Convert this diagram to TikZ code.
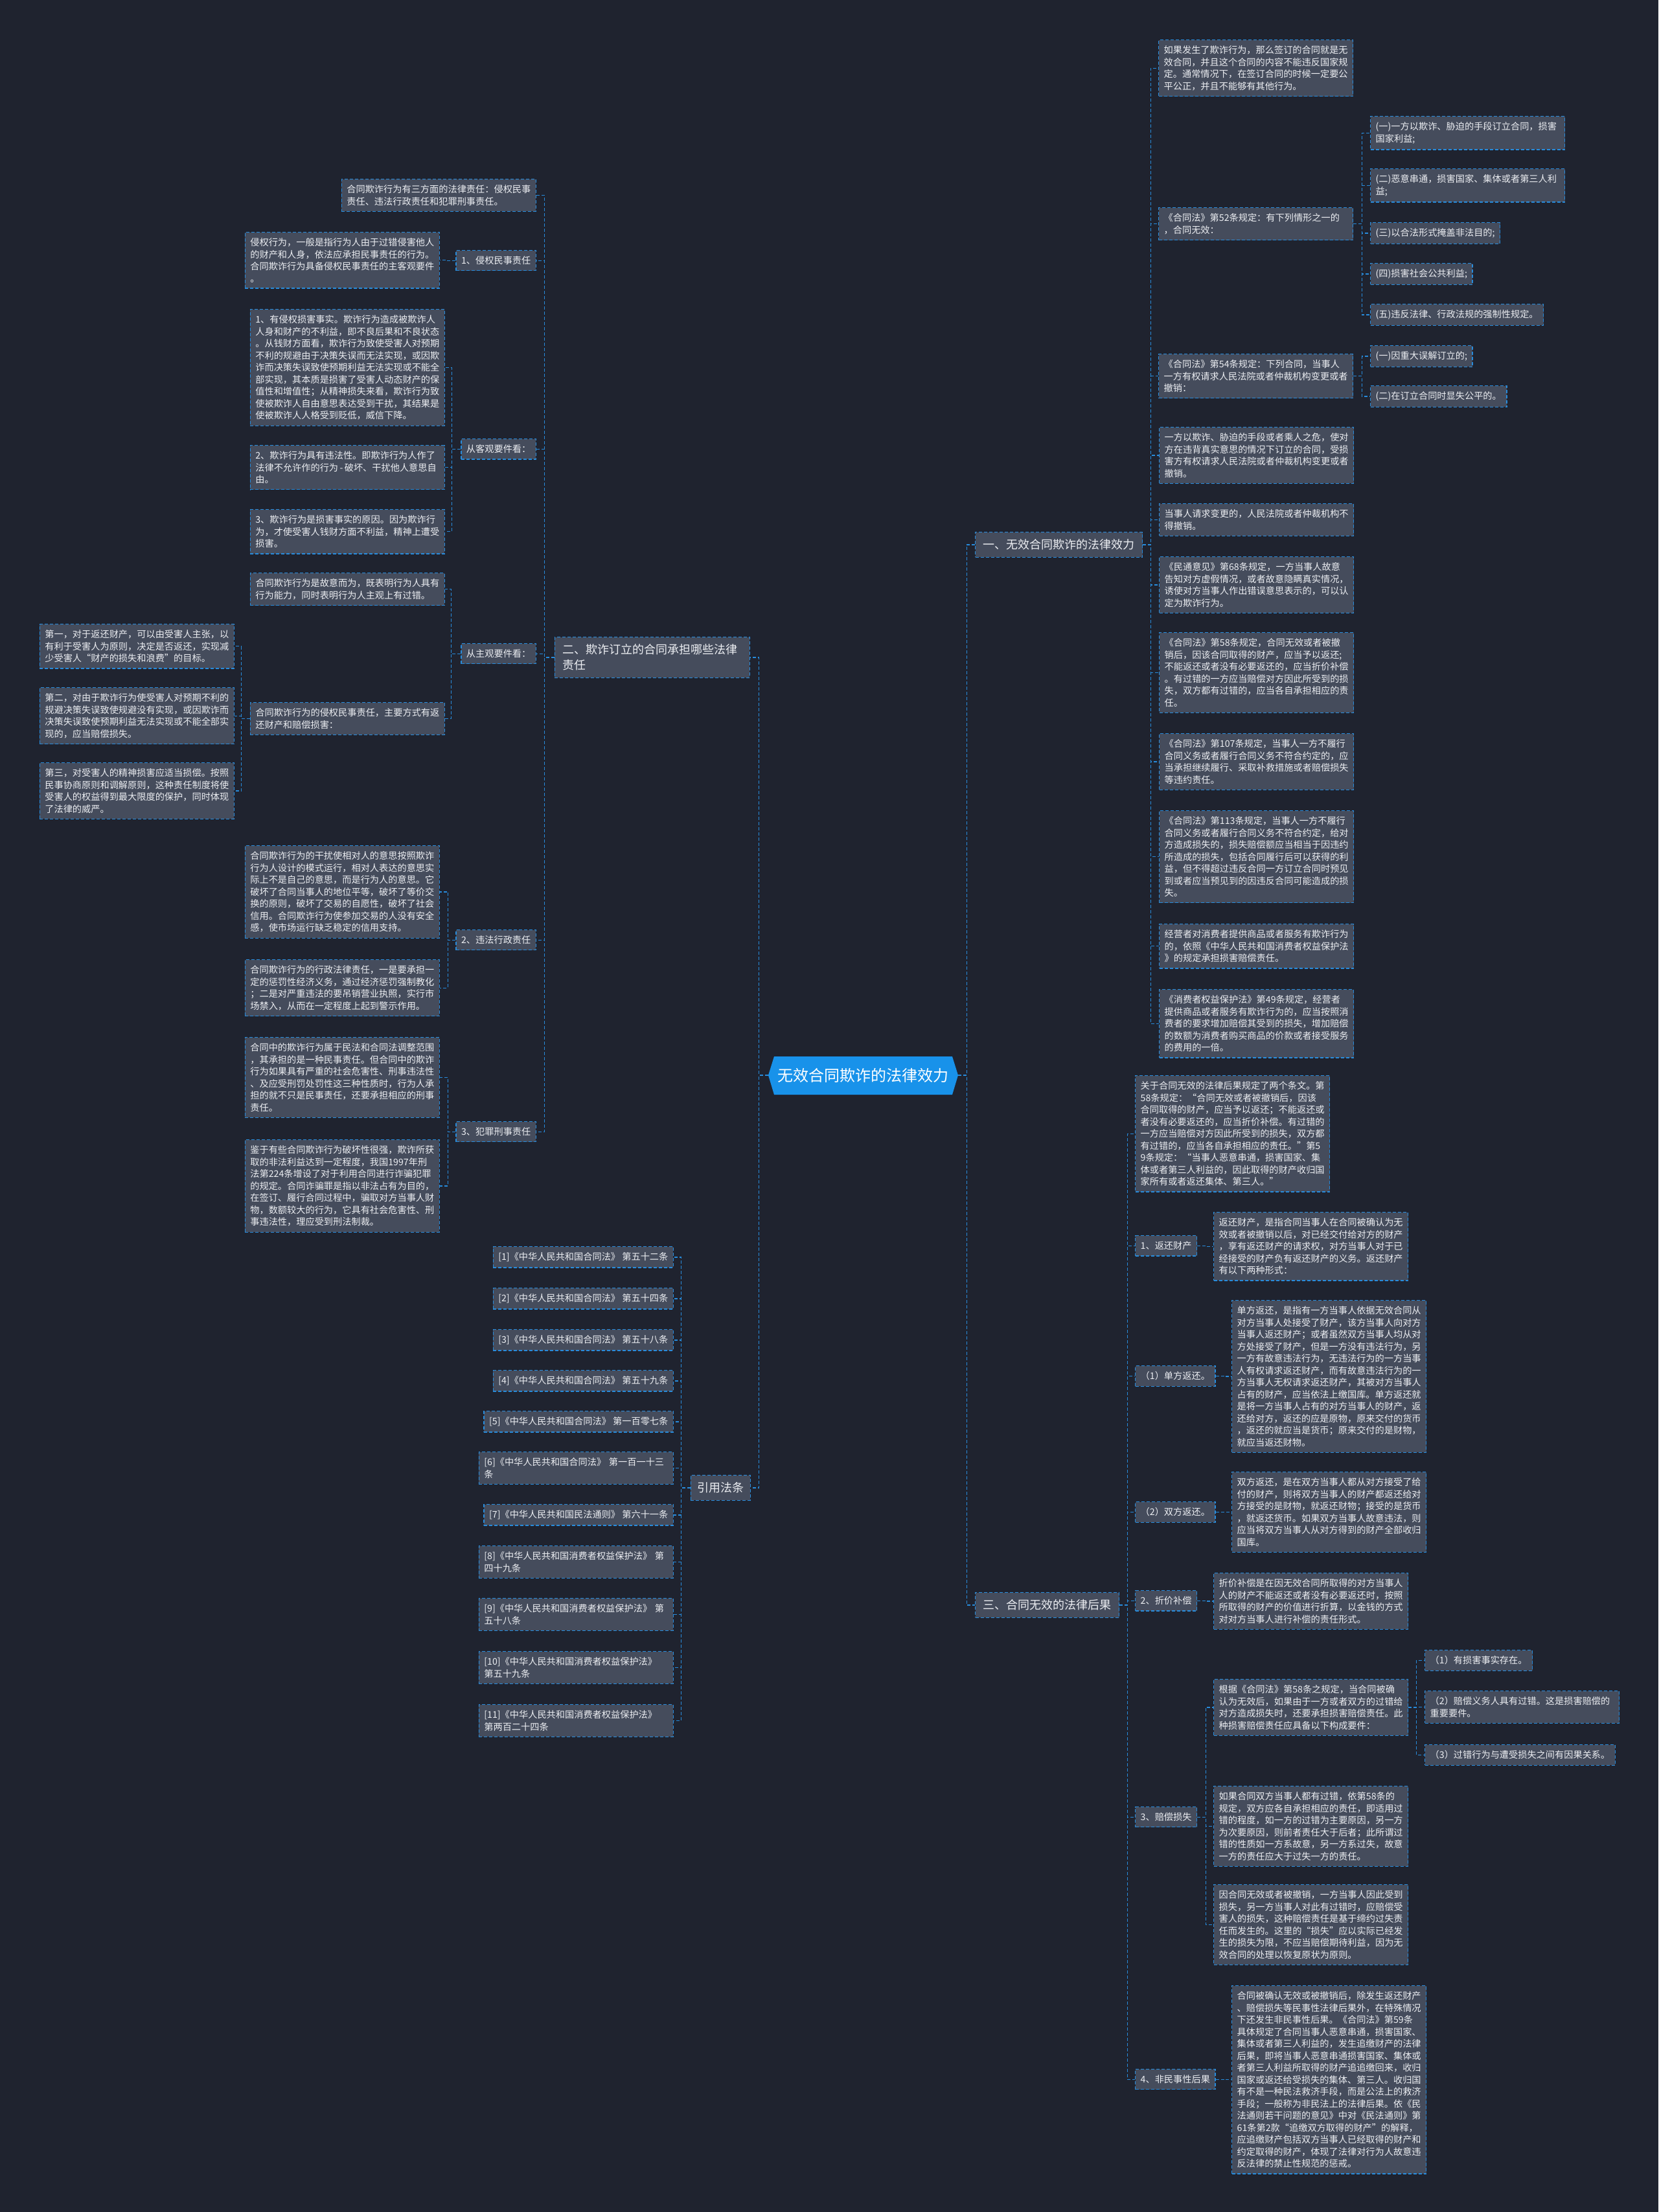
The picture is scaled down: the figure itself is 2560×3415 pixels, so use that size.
\documentclass[tikz,border=0pt]{standalone}
\usepackage{fontspec}
\newfontfamily\cjk{Noto Sans CJK SC}
\definecolor{bgcol}{RGB}{31,35,47}
\definecolor{boxcol}{RGB}{69,76,92}
\definecolor{linecol}{RGB}{40,140,220}
\definecolor{txtcol}{RGB}{236,238,242}
\definecolor{rootcol}{RGB}{24,146,234}
\newcommand\linkR[3]{\draw[conn] (#1.east) -- ++(#3,0) |- (#2.west);}
\newcommand\linkL[3]{\draw[conn] (#1.west) -- ++(-#3,0) |- (#2.east);}
\begin{document}
\begin{tikzpicture}[x=1pt,y=-1pt,
  conn/.style={draw=linecol, line width=1.3pt, dash pattern=on 5pt off 3pt},
  box/.style={draw=linecol, line width=1.3pt, dash pattern=on 5pt off 3pt, fill=boxcol, text=txtcol, font=\cjk\fontsize{14.2}{18.5}\selectfont, inner xsep=8pt, inner ysep=9pt, align=left},
  tw/.style={box, text width=#1},
  br/.style={box, font=\cjk\fontsize{18}{24}\selectfont, inner xsep=12pt, inner ysep=11pt},
  NW/.style={anchor=north west}, NE/.style={anchor=north east}]
\fill[bgcol] (0,0) rectangle (2560,3415);
\useasboundingbox (0,0) rectangle (2560,3415);

% root
\fill[rootcol] (1186,1660) -- (1195,1631) -- (1470,1631) -- (1479,1660) -- (1470,1690) -- (1195,1690) -- cycle;
\node[text=white, font=\cjk\fontsize{24}{28}\selectfont, inner sep=0pt, minimum width=293pt, minimum height=59pt] (root) at (1332.5,1660) {无效合同欺诈的法律效力};

% branches
\node[br, NW] (b1) at (1505,821) {一、无效合同欺诈的法律效力};
\node[br, NW] (b3) at (1505,2458) {三、合同无效的法律后果};
\node[br, NE, text width=277pt] (b2) at (1158,983) {二、欺诈订立的合同承担哪些法律\\责任};
\node[br, NE, inner xsep=10pt] (refs) at (1159,2277) {引用法条};

% ===== branch 1 =====
\node[tw=284pt, NW] (r1) at (1788,61) {如果发生了欺诈行为，那么签订的合同就是无\\效合同，并且这个合同的内容不能违反国家规\\定。通常情况下，在签订合同的时候一定要公\\平公正，并且不能够有其他行为。};
\node[tw=284pt, NW] (r52) at (1788,320) {《合同法》第52条规定：有下列情形之一的\\，合同无效：};
\node[tw=284pt, NW] (c1) at (2115,179) {(一)一方以欺诈、胁迫的手段订立合同，损害\\国家利益;};
\node[tw=284pt, NW] (c2) at (2115,260) {(二)恶意串通，损害国家、集体或者第三人利\\益;};
\node[box, NW] (c3) at (2115,343) {(三)以合法形式掩盖非法目的;};
\node[box, NW] (c4) at (2115,406) {(四)损害社会公共利益;};
\node[box, NW] (c5) at (2115,469) {(五)违反法律、行政法规的强制性规定。};
\node[tw=284pt, NW] (r54) at (1788,546) {《合同法》第54条规定：下列合同，当事人\\一方有权请求人民法院或者仲裁机构变更或者\\撤销：};
\node[box, NW] (d1) at (2115,533) {(一)因重大误解订立的;};
\node[box, NW] (d2) at (2115,595) {(二)在订立合同时显失公平的。};
\node[tw=284pt, NW] (r3) at (1789,659) {一方以欺诈、胁迫的手段或者乘人之危，使对\\方在违背真实意思的情况下订立的合同，受损\\害方有权请求人民法院或者仲裁机构变更或者\\撤销。};
\node[tw=284pt, NW] (r4) at (1789,777) {当事人请求变更的，人民法院或者仲裁机构不\\得撤销。};
\node[tw=284pt, NW] (r5) at (1789,859) {《民通意见》第68条规定，一方当事人故意\\告知对方虚假情况，或者故意隐瞒真实情况，\\诱使对方当事人作出错误意思表示的，可以认\\定为欺诈行为。};
\node[tw=284pt, NW] (r6) at (1789,976) {《合同法》第58条规定，合同无效或者被撤\\销后，因该合同取得的财产，应当予以返还;\\不能返还或者没有必要返还的，应当折价补偿\\。有过错的一方应当赔偿对方因此所受到的损\\失，双方都有过错的，应当各自承担相应的责\\任。};
\node[tw=284pt, NW] (r7) at (1789,1132) {《合同法》第107条规定，当事人一方不履行\\合同义务或者履行合同义务不符合约定的，应\\当承担继续履行、采取补救措施或者赔偿损失\\等违约责任。};
\node[tw=284pt, NW] (r8) at (1789,1251) {《合同法》第113条规定，当事人一方不履行\\合同义务或者履行合同义务不符合约定，给对\\方造成损失的，损失赔偿额应当相当于因违约\\所造成的损失，包括合同履行后可以获得的利\\益，但不得超过违反合同一方订立合同时预见\\到或者应当预见到的因违反合同可能造成的损\\失。};
\node[tw=284pt, NW] (r9) at (1789,1426) {经营者对消费者提供商品或者服务有欺诈行为\\的，依照《中华人民共和国消费者权益保护法\\》的规定承担损害赔偿责任。};
\node[tw=284pt, NW] (r10) at (1789,1527) {《消费者权益保护法》第49条规定，经营者\\提供商品或者服务有欺诈行为的，应当按照消\\费者的要求增加赔偿其受到的损失，增加赔偿\\的数额为消费者购买商品的价款或者接受服务\\的费用的一倍。};

% ===== branch 3 =====
\node[tw=284pt, NW] (t0) at (1752,1660) {关于合同无效的法律后果规定了两个条文。第\\58条规定：“合同无效或者被撤销后，因该\\合同取得的财产，应当予以返还；不能返还或\\者没有必要返还的，应当折价补偿。有过错的\\一方应当赔偿对方因此所受到的损失，双方都\\有过错的，应当各自承担相应的责任。”第5\\9条规定：“当事人恶意串通，损害国家、集\\体或者第三人利益的，因此取得的财产收归国\\家所有或者返还集体、第三人。”};
\node[box, NW] (t1) at (1752,1907) {1、返还财产};
\node[tw=284pt, NW] (t1d) at (1873,1871) {返还财产，是指合同当事人在合同被确认为无\\效或者被撤销以后，对已经交付给对方的财产\\，享有返还财产的请求权，对方当事人对于已\\经接受的财产负有返还财产的义务。返还财产\\有以下两种形式：};
\node[box, NW] (t2) at (1752,2108) {（1）单方返还。};
\node[tw=284pt, NW] (t2d) at (1901,2007) {单方返还，是指有一方当事人依据无效合同从\\对方当事人处接受了财产，该方当事人向对方\\当事人返还财产；或者虽然双方当事人均从对\\方处接受了财产，但是一方没有违法行为，另\\一方有故意违法行为，无违法行为的一方当事\\人有权请求返还财产，而有故意违法行为的一\\方当事人无权请求返还财产，其被对方当事人\\占有的财产，应当依法上缴国库。单方返还就\\是将一方当事人占有的对方当事人的财产，返\\还给对方，返还的应是原物，原来交付的货币\\，返还的就应当是货币；原来交付的是财物，\\就应当返还财物。};
\node[box, NW] (t3) at (1752,2318) {（2）双方返还。};
\node[tw=284pt, NW] (t3d) at (1901,2272) {双方返还，是在双方当事人都从对方接受了给\\付的财产，则将双方当事人的财产都返还给对\\方接受的是财物，就返还财物；接受的是货币\\，就返还货币。如果双方当事人故意违法，则\\应当将双方当事人从对方得到的财产全部收归\\国库。};
\node[box, NW] (t4) at (1752,2455) {2、折价补偿};
\node[tw=284pt, NW] (t4d) at (1873,2428) {折价补偿是在因无效合同所取得的对方当事人\\人的财产不能返还或者没有必要返还时，按照\\所取得的财产的价值进行折算，以金钱的方式\\对对方当事人进行补偿的责任形式。};
\node[box, NW] (t5) at (1752,2789) {3、赔偿损失};
\node[tw=284pt, NW] (t5a) at (1873,2592) {根据《合同法》第58条之规定，当合同被确\\认为无效后，如果由于一方或者双方的过错给\\对方造成损失时，还要承担损害赔偿责任。此\\种损害赔偿责任应具备以下构成要件：};
\node[box, NW] (e1) at (2199,2547) {（1）有损害事实存在。};
\node[tw=284pt, NW] (e2) at (2199,2610) {（2）赔偿义务人具有过错。这是损害赔偿的\\重要要件。};
\node[box, NW] (e3) at (2199,2693) {（3）过错行为与遭受损失之间有因果关系。};
\node[tw=284pt, NW] (t5b) at (1873,2757) {如果合同双方当事人都有过错，依第58条的\\规定，双方应各自承担相应的责任，即适用过\\错的程度，如一方的过错为主要原因，另一方\\为次要原因，则前者责任大于后者；此所谓过\\错的性质如一方系故意，另一方系过失，故意\\一方的责任应大于过失一方的责任。};
\node[tw=284pt, NW] (t5c) at (1873,2909) {因合同无效或者被撤销，一方当事人因此受到\\损失，另一方当事人对此有过错时，应赔偿受\\害人的损失，这种赔偿责任是基于缔约过失责\\任而发生的。这里的“损失”应以实际已经发\\生的损失为限，不应当赔偿期待利益，因为无\\效合同的处理以恢复原状为原则。};
\node[box, NW] (t6) at (1752,3194) {4、非民事性后果};
\node[tw=284pt, NW] (t6d) at (1901,3065) {合同被确认无效或被撤销后，除发生返还财产\\、赔偿损失等民事性法律后果外，在特殊情况\\下还发生非民事性后果。《合同法》第59条\\具体规定了合同当事人恶意串通，损害国家、\\集体或者第三人利益的，发生追缴财产的法律\\后果，即将当事人恶意串通损害国家、集体或\\者第三人利益所取得的财产追追缴回来，收归\\国家或返还给受损失的集体、第三人。收归国\\有不是一种民法救济手段，而是公法上的救济\\手段；一般称为非民法上的法律后果。依《民\\法通则若干问题的意见》中对《民法通则》第\\61条第2款“追缴双方取得的财产”的解释，\\应追缴财产包括双方当事人已经取得的财产和\\约定取得的财产，体现了法律对行为人故意违\\反法律的禁止性规范的惩戒。};

% ===== branch 2 =====
\node[tw=284pt, NE] (l0) at (828,276) {合同欺诈行为有三方面的法律责任：侵权民事\\责任、违法行政责任和犯罪刑事责任。};
\node[box, NE] (l1) at (828,386) {1、侵权民事责任};
\node[tw=284pt, NE] (l1d) at (679,358) {侵权行为，一般是指行为人由于过错侵害他人\\的财产和人身，依法应承担民事责任的行为。\\合同欺诈行为具备侵权民事责任的主客观要件\\。};
\node[box, NE] (l2) at (828,677) {从客观要件看：};
\node[tw=284pt, NE] (l2a) at (687,477) {1、有侵权损害事实。欺诈行为造成被欺诈人\\人身和财产的不利益，即不良后果和不良状态\\。从钱财方面看，欺诈行为致使受害人对预期\\不利的规避由于决策失误而无法实现，或因欺\\诈而决策失误致使预期利益无法实现或不能全\\部实现，其本质是损害了受害人动态财产的保\\值性和增值性；从精神损失来看，欺诈行为致\\使被欺诈人自由意思表达受到干扰，其结果是\\使被欺诈人人格受到贬低，威信下降。};
\node[tw=284pt, NE] (l2b) at (687,687) {2、欺诈行为具有违法性。即欺诈行为人作了\\法律不允许作的行为\,-\,破坏、干扰他人意思自\\由。};
\node[tw=284pt, NE] (l2c) at (687,786) {3、欺诈行为是损害事实的原因。因为欺诈行\\为，才使受害人钱财方面不利益，精神上遭受\\损害。};
\node[box, NE] (l3) at (828,993) {从主观要件看：};
\node[tw=284pt, NE] (l3a) at (687,884) {合同欺诈行为是故意而为，既表明行为人具有\\行为能力，同时表明行为人主观上有过错。};
\node[tw=284pt, NE] (l3b) at (687,1084) {合同欺诈行为的侵权民事责任，主要方式有返\\还财产和赔偿损害：};
\node[tw=284pt, NE] (f1) at (362,963) {第一，对于返还财产，可以由受害人主张，以\\有利于受害人为原则，决定是否返还，实现减\\少受害人“财产的损失和浪费”的目标。};
\node[tw=284pt, NE] (f2) at (362,1061) {第二，对由于欺诈行为使受害人对预期不利的\\规避决策失误致使规避没有实现，或因欺诈而\\决策失误致使预期利益无法实现或不能全部实\\现的，应当赔偿损失。};
\node[tw=284pt, NE] (f3) at (362,1177) {第三，对受害人的精神损害应适当损偿。按照\\民事协商原则和调解原则，这种责任制度将使\\受害人的权益得到最大限度的保护，同时体现\\了法律的威严。};
\node[box, NE] (l4) at (828,1435) {2、违法行政责任};
\node[tw=284pt, NE] (l4a) at (679,1305) {合同欺诈行为的干扰使相对人的意思按照欺诈\\行为人设计的模式运行，相对人表达的意思实\\际上不是自己的意思，而是行为人的意思。它\\破坏了合同当事人的地位平等，破坏了等价交\\换的原则，破坏了交易的自愿性，破坏了社会\\信用。合同欺诈行为使参加交易的人没有安全\\感，使市场运行缺乏稳定的信用支持。};
\node[tw=284pt, NE] (l4b) at (679,1481) {合同欺诈行为的行政法律责任，一是要承担一\\定的惩罚性经济义务，通过经济惩罚强制教化\\；二是对严重违法的要吊销营业执照，实行市\\场禁入，从而在一定程度上起到警示作用。};
\node[box, NE] (l5) at (828,1731) {3、犯罪刑事责任};
\node[tw=284pt, NE] (l5a) at (679,1601) {合同中的欺诈行为属于民法和合同法调整范围\\，其承担的是一种民事责任。但合同中的欺诈\\行为如果具有严重的社会危害性、刑事违法性\\、及应受刑罚处罚性这三种性质时，行为人承\\担的就不只是民事责任，还要承担相应的刑事\\责任。};
\node[tw=284pt, NE] (l5b) at (679,1759) {鉴于有些合同欺诈行为破坏性很强，欺诈所获\\取的非法利益达到一定程度，我国1997年刑\\法第224条增设了对于利用合同进行诈骗犯罪\\的规定。合同诈骗罪是指以非法占有为目的，\\在签订、履行合同过程中，骗取对方当事人财\\物，数额较大的行为，它具有社会危害性、刑\\事违法性，理应受到刑法制裁。};

% ===== references =====
\node[box, NE] (ref1) at (1040,1924) {[1]《中华人民共和国合同法》~第五十二条};
\node[box, NE] (ref2) at (1040,1988) {[2]《中华人民共和国合同法》~第五十四条};
\node[box, NE] (ref3) at (1040,2052) {[3]《中华人民共和国合同法》~第五十八条};
\node[box, NE] (ref4) at (1040,2115) {[4]《中华人民共和国合同法》~第五十九条};
\node[box, NE] (ref5) at (1040,2178) {[5]《中华人民共和国合同法》~第一百零七条};
\node[tw=284pt, NE] (ref6) at (1040,2241) {[6]《中华人民共和国合同法》~第一百一十三\\条};
\node[box, NE] (ref7) at (1040,2322) {[7]《中华人民共和国民法通则》~第六十一条};
\node[tw=284pt, NE] (ref8) at (1040,2386) {[8]《中华人民共和国消费者权益保护法》~第\\四十九条};
\node[tw=284pt, NE] (ref9) at (1040,2467) {[9]《中华人民共和国消费者权益保护法》~第\\五十八条};
\node[tw=284pt, NE] (ref10) at (1040,2549) {[10]《中华人民共和国消费者权益保护法》\\第五十九条};
\node[tw=284pt, NE] (ref11) at (1040,2631) {[11]《中华人民共和国消费者权益保护法》\\第两百二十四条};

% ===== connectors =====
\linkR{root}{b1}{13}
\linkR{root}{b3}{13}
\linkL{root}{b2}{14}
\linkL{root}{refs}{14}
\foreach \n in {r1,r52,r54,r3,r4,r5,r6,r7,r8,r9,r10} {\linkR{b1}{\n}{12}}
\foreach \n in {c1,c2,c3,c4,c5} {\linkR{r52}{\n}{13}}
\foreach \n in {d1,d2} {\linkR{r54}{\n}{13}}
\foreach \n in {t0,t1,t2,t3,t4,t5,t6} {\linkR{b3}{\n}{12}}
\linkR{t1}{t1d}{13}
\linkR{t2}{t2d}{13}
\linkR{t3}{t3d}{13}
\linkR{t4}{t4d}{13}
\linkR{t6}{t6d}{13}
\foreach \n in {t5a,t5b,t5c} {\linkR{t5}{\n}{13}}
\foreach \n in {e1,e2,e3} {\linkR{t5a}{\n}{12}}
\foreach \n in {l0,l1,l2,l3,l4,l5} {\linkL{b2}{\n}{15}}
\linkL{l1}{l1d}{13}
\foreach \n in {l2a,l2b,l2c} {\linkL{l2}{\n}{14}}
\foreach \n in {l3a,l3b} {\linkL{l3}{\n}{15}}
\foreach \n in {f1,f2,f3} {\linkL{l3b}{\n}{13}}
\foreach \n in {l4a,l4b} {\linkL{l4}{\n}{12}}
\foreach \n in {l5a,l5b} {\linkL{l5}{\n}{12}}
\foreach \n in {ref1,ref2,ref3,ref4,ref5,ref6,ref7,ref8,ref9,ref10,ref11} {\linkL{refs}{\n}{14}}
\end{tikzpicture}
\end{document}
